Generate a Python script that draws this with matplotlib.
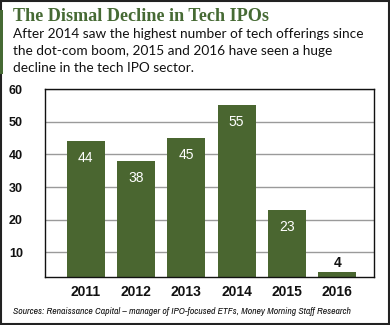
import matplotlib
matplotlib.use("Agg")
import matplotlib.pyplot as plt
from matplotlib.patches import Rectangle

years = ["2011", "2012", "2013", "2014", "2015", "2016"]
ipo_counts = [44, 38, 45, 55, 23, 4]
y_ticks = [10, 20, 30, 40, 50, 60]

title = "The Dismal Decline in Tech IPOs"
subtitle_lines = [
    "After 2014 saw the highest number of tech offerings since",
    "the dot-com boom, 2015 and 2016 have seen a huge",
    "decline in the tech IPO sector.",
]
source = "Sources: Renaissance Capital \u2013 manager of IPO-focused ETFs, Money Morning Staff Research"

GREEN = "#4a6630"
TITLE_GREEN = "#466a34"

W, H = 390, 325
fig = plt.figure(figsize=(W / 100, H / 100), dpi=100)
renderer = fig.canvas.get_renderer()


def fx(px):
    return px / W


def fy(py):
    return 1 - py / H


def fit_width(txt, width_px):
    """Scale a text's font size so that it spans width_px pixels."""
    w = txt.get_window_extent(renderer=renderer).width
    txt.set_fontsize(txt.get_fontsize() * width_px / w)


# outer frame and left accent stripe
fig.patches.append(Rectangle((0.0015, 0.002), 0.996, 0.995, transform=fig.transFigure,
                             fill=False, edgecolor="#222222", linewidth=1.5))
fig.patches.append(Rectangle((0, fy(74)), fx(3.5), fy(10) - fy(74), transform=fig.transFigure,
                             facecolor=TITLE_GREEN, edgecolor="none"))

t = fig.text(fx(13), fy(21), title, family="Liberation Serif", weight="bold",
             fontsize=13, color=TITLE_GREEN, va="baseline", ha="left")
fit_width(t, 255)

sub = []
for i, line in enumerate(subtitle_lines):
    sub.append(fig.text(fx(13), fy(38 + 17 * i), line, family="Lato", fontsize=10,
                        color="#111111", va="baseline", ha="left"))
w0 = sub[0].get_window_extent(renderer=renderer).width
for s in sub:
    s.set_fontsize(s.get_fontsize() * 350 / w0)

ax = fig.add_axes([fx(45), fy(277), fx(374) - fx(45), fy(89) - fy(277)])
x = range(len(years))
bars = ax.bar(x, ipo_counts, width=0.75, color=GREEN, zorder=2)
ax.set_xlim(-0.81, 5.73)
ax.set_ylim(2.5, 60)
ax.set_yticks(y_ticks)
ax.set_yticklabels([str(t) for t in y_ticks], family="Liberation Sans",
                   weight="bold", fontsize=9, color="#111111")
ax.set_xticks(list(x))
ax.set_xticklabels(years, family="Liberation Sans", weight="bold",
                   fontsize=10, color="#111111")
ax.tick_params(axis="both", length=0)
ax.tick_params(axis="y", pad=16)
ax.tick_params(axis="x", pad=6)
ax.grid(axis="y", color="#9a9a9a", linewidth=1, zorder=1)
for s in ax.spines.values():
    s.set_color("#111111")
    s.set_linewidth(1)

for xi, v in zip(x, ipo_counts):
    if v >= 10:
        ax.annotate(str(v), (xi, v), xytext=(0, -17), textcoords="offset pixels",
                    ha="center", va="center", color="white",
                    family="Liberation Sans", fontsize=10)
    else:
        ax.annotate(str(v), (xi, v), xytext=(0, 9), textcoords="offset pixels",
                    ha="center", va="center", color="#111111",
                    family="Liberation Sans", weight="bold", fontsize=10)

src = fig.text(fx(13), fy(312), source, family="Archivo Narrow",
               style="italic", fontsize=7.5, color="#111111", va="center", ha="left")
fit_width(src, 339)

fig.savefig("out.png", dpi=100)
